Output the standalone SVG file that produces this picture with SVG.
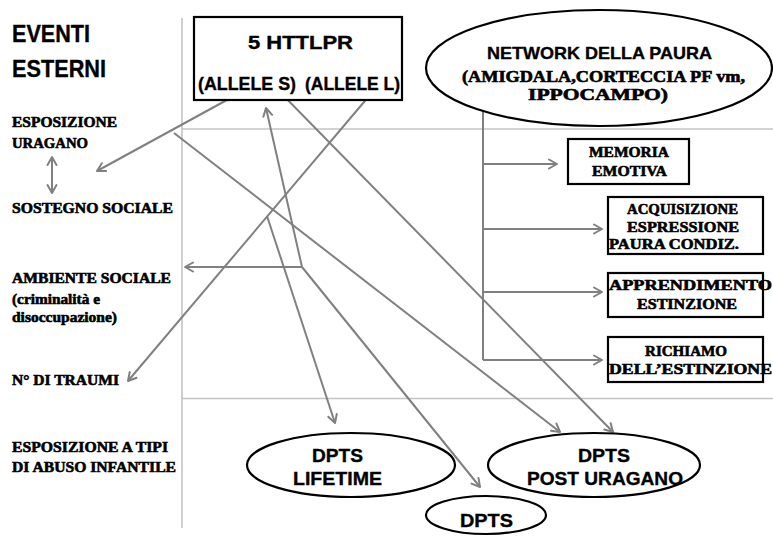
<svg xmlns="http://www.w3.org/2000/svg" width="773" height="536" viewBox="0 0 773 536">
  <defs>
    <marker id="arr" markerUnits="userSpaceOnUse" markerWidth="14" markerHeight="14" refX="10" refY="6" orient="auto-start-reverse">
      <path d="M2,1.5 L10,6 L2,10.5" fill="none" stroke="#808080" stroke-width="2" stroke-linecap="round" stroke-linejoin="round"/>
    </marker>
    <style>
      .sep { stroke: #c4c4c4; stroke-width: 1.6; fill: none; }
      .ln { stroke: #808080; stroke-width: 2; fill: none; }
      .arr { marker-end: url(#arr); }
      .dbl { marker-start: url(#arr); marker-end: url(#arr); }
      .box { fill: #fff; stroke: #000; stroke-width: 2.2; }
      .oval { fill: #fff; stroke: #000; stroke-width: 2.2; }
      .sans { font-family: "Liberation Sans", Arial, sans-serif; font-weight: bold; fill: #000; stroke: #000; stroke-width: 0.35; }
      .serif { font-family: "Liberation Serif", "Times New Roman", serif; font-weight: bold; fill: #000; stroke: #000; stroke-width: 0.6; }
      .lab { font-size: 15px; }
    </style>
  </defs>

  <!-- layout separators -->
  <g id="separators">
    <line class="sep" x1="182" y1="18" x2="182" y2="528"/>
    <line class="sep" x1="182" y1="129" x2="773" y2="129"/>
    <line class="sep" x1="182" y1="398.5" x2="773" y2="398.5"/>
  </g>

  <!-- left column: external events -->
  <g id="eventi-esterni">
    <text class="sans" x="12" y="42" font-size="24" textLength="78" lengthAdjust="spacingAndGlyphs">EVENTI</text>
    <text class="sans" x="12" y="77" font-size="24" textLength="94" lengthAdjust="spacingAndGlyphs">ESTERNI</text>
  </g>
  <g id="esposizione-uragano">
    <text class="serif lab" x="12" y="127" textLength="105" lengthAdjust="spacingAndGlyphs">ESPOSIZIONE</text>
    <text class="serif lab" x="12" y="148" textLength="76" lengthAdjust="spacingAndGlyphs">URAGANO</text>
  </g>
  <g id="sostegno-sociale">
    <text class="serif lab" x="12" y="213" textLength="161" lengthAdjust="spacingAndGlyphs">SOSTEGNO SOCIALE</text>
  </g>
  <g id="ambiente-sociale">
    <text class="serif lab" x="12" y="283" textLength="159" lengthAdjust="spacingAndGlyphs">AMBIENTE SOCIALE</text>
    <text class="serif lab" x="12" y="304" textLength="88" lengthAdjust="spacingAndGlyphs">(criminalità e</text>
    <text class="serif lab" x="12" y="322" textLength="105" lengthAdjust="spacingAndGlyphs">disoccupazione)</text>
  </g>
  <g id="traumi">
    <text class="serif lab" x="12" y="385" textLength="107" lengthAdjust="spacingAndGlyphs">N°  DI TRAUMI</text>
  </g>
  <g id="abuso-infantile">
    <text class="serif lab" x="12" y="452" textLength="156" lengthAdjust="spacingAndGlyphs">ESPOSIZIONE A TIPI</text>
    <text class="serif lab" x="12" y="472" textLength="164" lengthAdjust="spacingAndGlyphs">DI ABUSO INFANTILE</text>
  </g>

  <!-- connectors -->
  <g id="connectors">
    <path class="ln dbl" d="M52,157 L52,193"/>
    <path class="ln dbl" d="M247,89 L97,171"/>
    <path class="ln arr" d="M174,133 L560,432"/>
    <path class="ln dbl" d="M277,89 L613,432"/>
    <path class="ln arr" d="M302,267 L266,108"/>
    <path class="ln arr" d="M302,267 L185,267"/>
    <path class="ln arr" d="M302,267 L480,487"/>
    <path class="ln arr" d="M267,216 L335,423"/>
    <path class="ln dbl" d="M375,89 L128,381"/>
    <path class="ln" d="M483,95 L483,360"/>
    <path class="ln arr" d="M483,164 L557,164"/>
    <path class="ln arr" d="M483,229 L602,229"/>
    <path class="ln arr" d="M483,292 L602,292"/>
    <path class="ln arr" d="M483,360 L602,360"/>
  </g>

  <!-- gene node -->
  <g id="httlpr">
    <rect class="box" x="194" y="17" width="208" height="83" stroke-width="3"/>
    <text class="sans" x="248" y="49" font-size="18" textLength="105" lengthAdjust="spacingAndGlyphs">5 HTTLPR</text>
    <text class="sans" x="198" y="90" font-size="18" textLength="98" lengthAdjust="spacingAndGlyphs">(ALLELE S)</text>
    <text class="sans" x="305" y="90" font-size="18" textLength="95" lengthAdjust="spacingAndGlyphs">(ALLELE L)</text>
  </g>

  <!-- fear network -->
  <g id="network-paura">
    <ellipse class="oval" cx="599" cy="68" rx="173" ry="58"/>
    <text class="sans" x="487" y="59" font-size="17" textLength="225" lengthAdjust="spacingAndGlyphs">NETWORK DELLA PAURA</text>
    <text class="serif" x="462" y="82" font-size="16" textLength="283" lengthAdjust="spacingAndGlyphs">(AMIGDALA,CORTECCIA PF vm,</text>
    <text class="serif" x="528" y="100" font-size="16" textLength="140" lengthAdjust="spacingAndGlyphs">IPPOCAMPO)</text>
  </g>

  <g id="memoria-emotiva">
    <rect class="box" x="568" y="139" width="121" height="45"/>
    <text class="serif lab" x="589" y="157" textLength="80" lengthAdjust="spacingAndGlyphs">MEMORIA</text>
    <text class="serif lab" x="592" y="176" textLength="75" lengthAdjust="spacingAndGlyphs">EMOTIVA</text>
  </g>
  <g id="acquisizione">
    <rect class="box" x="608" y="197" width="155" height="57"/>
    <text class="serif lab" x="627" y="214" textLength="111" lengthAdjust="spacingAndGlyphs">ACQUISIZIONE</text>
    <text class="serif lab" x="627" y="232" textLength="112" lengthAdjust="spacingAndGlyphs">ESPRESSIONE</text>
    <text class="serif lab" x="609" y="249" textLength="130" lengthAdjust="spacingAndGlyphs">PAURA CONDIZ.</text>
  </g>
  <g id="apprendimento">
    <rect class="box" x="608" y="273" width="155" height="44"/>
    <text class="serif lab" x="609" y="290" textLength="163" lengthAdjust="spacingAndGlyphs">APPRENDIMENTO</text>
    <text class="serif lab" x="637" y="309" textLength="100" lengthAdjust="spacingAndGlyphs">ESTINZIONE</text>
  </g>
  <g id="richiamo">
    <rect class="box" x="608" y="337" width="155" height="45"/>
    <text class="serif lab" x="645" y="356" textLength="82" lengthAdjust="spacingAndGlyphs">RICHIAMO</text>
    <text class="serif lab" x="609" y="374" textLength="163" lengthAdjust="spacingAndGlyphs">DELL’ESTINZIONE</text>
  </g>

  <!-- outcomes -->
  <g id="dpts-lifetime">
    <ellipse class="oval" cx="351" cy="465" rx="104" ry="32"/>
    <text class="sans" x="312" y="462" font-size="19" textLength="51" lengthAdjust="spacingAndGlyphs">DPTS</text>
    <text class="sans" x="293" y="485" font-size="19" textLength="89" lengthAdjust="spacingAndGlyphs">LIFETIME</text>
  </g>
  <g id="dpts-post-uragano">
    <ellipse class="oval" cx="594" cy="465" rx="106" ry="32"/>
    <text class="sans" x="578" y="462" font-size="19" textLength="52" lengthAdjust="spacingAndGlyphs">DPTS</text>
    <text class="sans" x="527" y="485" font-size="19" textLength="156" lengthAdjust="spacingAndGlyphs">POST URAGANO</text>
  </g>
  <g id="dpts">
    <ellipse class="oval" cx="486" cy="515" rx="60" ry="19"/>
    <text class="sans" x="460" y="527" font-size="19" textLength="53" lengthAdjust="spacingAndGlyphs">DPTS</text>
  </g>
</svg>
